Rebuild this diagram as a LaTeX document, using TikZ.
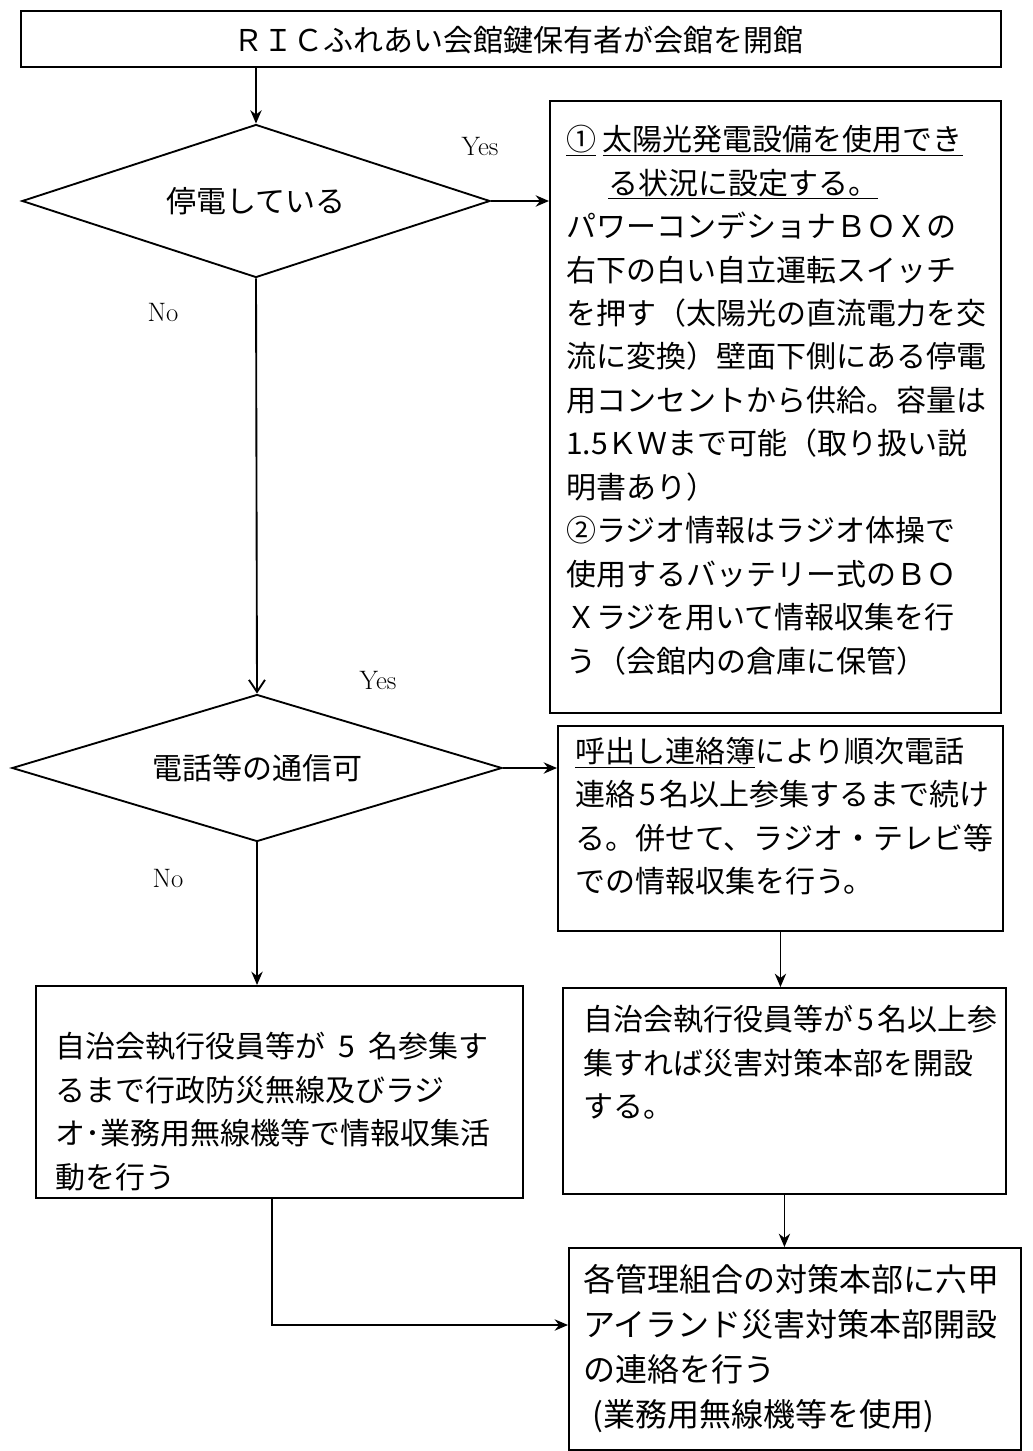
\documentclass[tikz,border=0pt]{standalone}
\usepackage{fontspec}
\newfontfamily\jpfont{Noto Sans CJK JP}
\usetikzlibrary{arrows.meta,shapes.geometric}

\begin{document}
\begin{tikzpicture}[x=0.75pt,y=0.75pt,yscale=-1,xscale=1,
    box/.style={draw,line width=1.4pt,anchor=north west,inner sep=0pt},
    decision/.style={draw,diamond,aspect=3,line width=1.4pt,inner sep=0pt,font=\jpfont\fontsize{22.5}{27}\selectfont},
    jtext/.style={anchor=north west,inner sep=0pt,align=left,font=\jpfont\fontsize{22.5}{32.6}\selectfont},
    yesno/.style={inner sep=0pt,font=\fontsize{20}{24}\selectfont},
    flow/.style={line width=1.4pt,-{Stealth[length=10pt,width=8.5pt]}},
    openflow/.style={line width=1.4pt,-{Straight Barb[length=9pt,width=12pt]}}]

    \useasboundingbox (0,0) rectangle (1032,1451);

    % frames
    \node[box,minimum width=735pt,minimum height=42pt] (start) at (20,10) {};
    \node[decision,minimum width=351pt,minimum height=114.75pt] (outage) at (256,201) {停電している};
    \node[box,minimum width=338.25pt,minimum height=459pt] (solar) at (549,100) {};
    \node[decision,minimum width=367.5pt,minimum height=110.25pt] (phone) at (257,768) {電話等の通信可};
    \node[box,minimum width=333.75pt,minimum height=153.75pt] (call) at (557,725) {};
    \node[box,minimum width=365.25pt,minimum height=159pt] (wait) at (35,985) {};
    \node[box,minimum width=332.25pt,minimum height=154.5pt] (hq) at (562,987) {};
    \node[box,minimum width=339pt,minimum height=151.5pt] (notify) at (568,1247) {};
    \coordinate (bend) at (272,1325);

    % texts
    \node[jtext,anchor=center] (tstart) at (518,40) {ＲＩＣふれあい会館鍵保有者が会館を開館};
    \node[jtext] (tsolar) at (566,125) {\underline{①}\ \underline{太陽光発電設備を使用でき}\\
        \hspace*{31.5pt}\underline{る状況に設定する。}\\
        パワーコンデショナＢＯＸの\\
        右下の白い自立運転スイッチ\\
        を押す（太陽光の直流電力を交\\
        流に変換）壁面下側にある停電\\
        用コンセントから供給。容量は\\
        1.5ＫＷまで可能（取り扱い説\\
        明書あり）\\
        ②ラジオ情報はラジオ体操で\\
        使用するバッテリー式のＢＯ\\
        Ｘラジを用いて情報収集を行\\
        う（会館内の倉庫に保管）};
    \node[jtext] (tcall) at (575,737) {\underline{呼出し連絡簿}により順次電話\\
        連絡\hspace{3pt}5\hspace{3pt}名以上参集するまで続け\\
        る。併せて、ラジオ・テレビ等\\
        での情報収集を行う。};
    \node[jtext] (twait) at (55,1032) {自治会執行役員等が\hspace{10pt}5\hspace{10pt}名参集す\\
        るまで行政防災無線及びラジ\\
        オ･業務用無線機等で情報収集活\\
        動を行う};
    \node[jtext] (thq) at (583,1005) {自治会執行役員等が\hspace{3pt}5\hspace{3pt}名以上参\\
        集すれば災害対策本部を開設\\
        する。};
    \node[jtext,font=\jpfont\fontsize{24}{33.75}\selectfont] (tnotify) at (583,1264) {各管理組合の対策本部に六甲\\
        アイランド災害対策本部開設\\
        の連絡を行う\\
        \hspace*{7pt}(業務用無線機等を使用)};

    \node[yesno] (yes1) at (480,147) {Yes};
    \node[yesno] (no1) at (163,312) {No};
    \node[yesno] (yes2) at (378,680) {Yes};
    \node[yesno] (no2) at (168,878) {No};

    % connectors
    \draw[flow] (start.south -| outage.north) -- (outage.north);
    \draw[flow] (outage.east) -- (outage.east -| solar.west);
    \draw[openflow] (outage.south) -- (phone.north);
    \draw[flow] (phone.east) -- (phone.east -| call.west);
    \draw[flow] (phone.south) -- (phone.south |- wait.north);
    \draw[flow] (call.south) -- (call.south |- hq.north);
    \draw[flow] (hq.south) -- (hq.south |- notify.north);
    \draw[flow] (bend |- wait.south) -- (bend) -- (bend -| notify.west);
\end{tikzpicture}
\end{document}
